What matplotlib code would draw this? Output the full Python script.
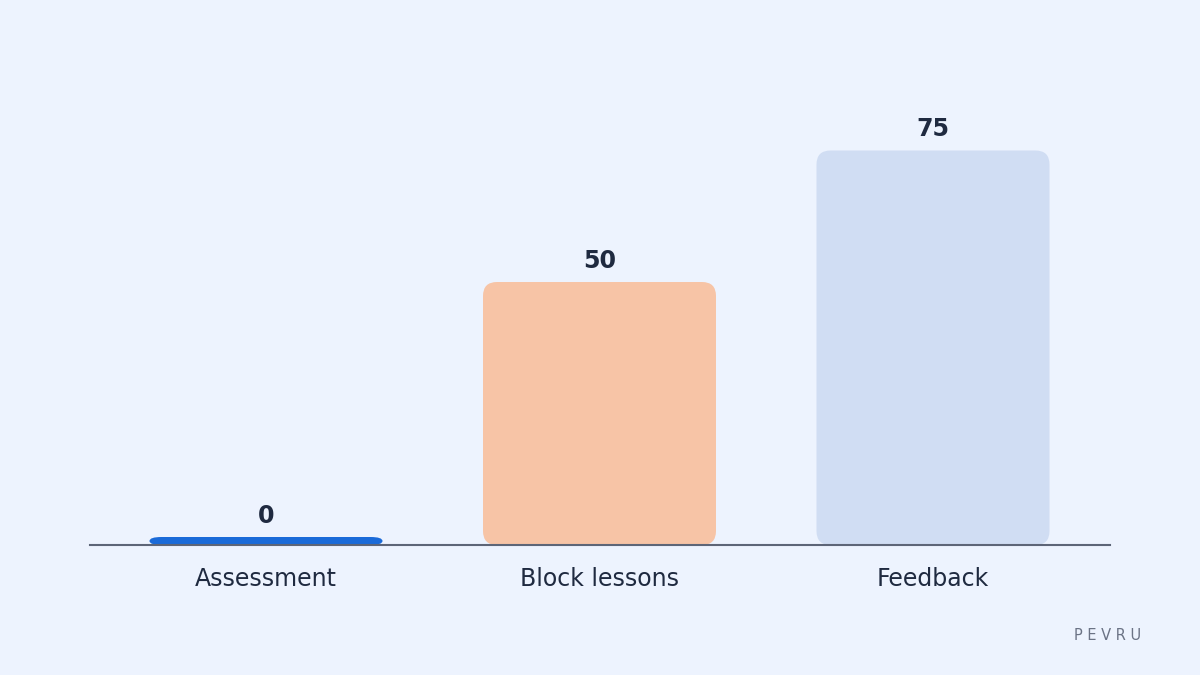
import matplotlib
matplotlib.use("Agg")
import matplotlib.pyplot as plt
from matplotlib.patches import FancyBboxPatch

categories = ["Assessment", "Block lessons", "Feedback"]
values = [0, 50, 75]
bar_colors = ["#1a6ad8", "#f7c4a6", "#d0ddf3"]

BG = "#edf3fe"
TEXT = "#1f2a40"

W, H = 1200, 675
fig = plt.figure(figsize=(12, 6.75), dpi=100, facecolor=BG)

# axes box in pixels: x 90..1110, y 60..545 (from top)
left, right, bottom, top = 90, 1110, 545, 60
ax = fig.add_axes([left / W, 1 - bottom / H, (right - left) / W, (bottom - top) / H])
ax.set_facecolor(BG)

px_per_x = 333.5
px_per_y = 263 / 50
x0 = -(266 - left) / px_per_x
ax.set_xlim(x0, x0 + (right - left) / px_per_x)
ax.set_ylim(0, (bottom - top) / px_per_y)

bar_w = 233 / px_per_x
for i, (v, c) in enumerate(zip(values, bar_colors)):
    if v > 0:
        h = v
        rx, ry = 14, 14
    else:
        # zero values still get a thin pill
        h = 8 / px_per_y
        rx, ry = 12, 4
    r = rx / px_per_x
    aspect = (ry / px_per_y) / r
    patch = FancyBboxPatch((i - bar_w / 2, 0), bar_w, h,
                           boxstyle=f"round,pad=0,rounding_size={r}",
                           mutation_aspect=aspect, facecolor=c,
                           edgecolor="none", zorder=2)
    ax.add_patch(patch)
    ax.annotate(str(v), (i, max(v, h)), xytext=(0, 9), textcoords="offset pixels",
                ha="center", va="bottom", fontsize=17, fontweight="bold",
                color=TEXT)

for s in ["top", "right", "left"]:
    ax.spines[s].set_visible(False)
ax.spines["bottom"].set_color("#5d6577")
ax.spines["bottom"].set_linewidth(1.5)
ax.spines["bottom"].set_zorder(3)
ax.set_yticks([])
ax.set_xticks(range(len(categories)))
ax.set_xticklabels(categories, fontsize=17, color=TEXT)
ax.tick_params(axis="x", length=0, pad=16)

fig.text(1141 / W, 1 - 636 / H, "P E V R U", ha="right", va="center",
         fontsize=10.5, color="#6b7385")

fig.savefig("out.png", dpi=100, facecolor=BG)
